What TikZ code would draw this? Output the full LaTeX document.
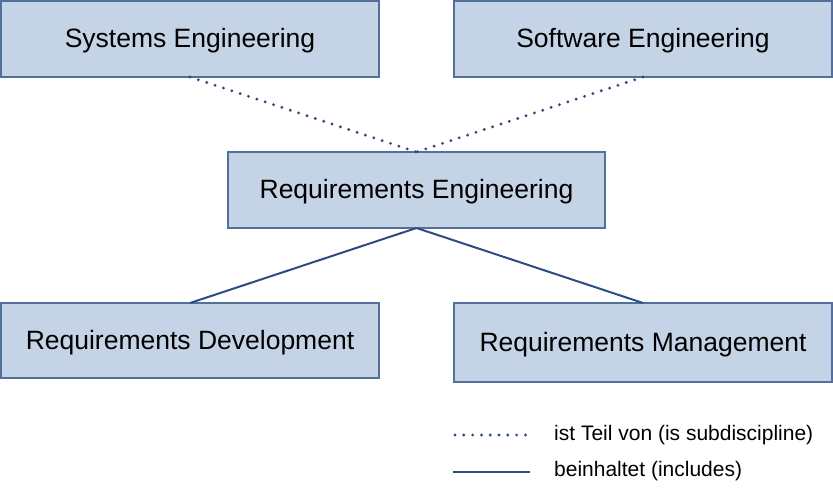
\documentclass[tikz,border=0pt]{standalone}
\usepackage{fontspec}
\setmainfont{Liberation Sans}
\definecolor{boxfill}{RGB}{196,211,229}
\definecolor{boxdraw}{RGB}{82,112,155}
\definecolor{linkcol}{RGB}{44,77,128}
\tikzset{
  discbox/.style={draw=boxdraw, fill=boxfill, line width=1.3pt, inner sep=0pt, outer sep=0pt,
    font=\fontsize{26.5}{30}\selectfont, text=black, text depth=0.17em},
  partof/.style={draw=linkcol, line width=3.2pt, line cap=round, dash pattern=on 0pt off 8.8pt},
  includes/.style={draw=linkcol, line width=2pt},
  legtext/.style={anchor=west, inner sep=0pt, font=\fontsize{21}{24}\selectfont, text=black}
}
\begin{document}
\begin{tikzpicture}[x=1pt,y=-1pt]
\useasboundingbox (0,0) rectangle (833,495);
\node[discbox, minimum width=378pt, minimum height=76pt] (se) at (190,39) {Systems Engineering};
\node[discbox, minimum width=378pt, minimum height=76pt] (sw) at (643,39) {Software Engineering};
\node[discbox, minimum width=377pt, minimum height=76pt] (re) at (416.5,190) {Requirements Engineering};
\node[discbox, minimum width=378pt, minimum height=75pt] (rd) at (190,340.5) {Requirements Development};
\node[discbox, minimum width=378pt, minimum height=79pt] (rm) at (643,342.5) {Requirements Management};
\draw[partof] (se.south) -- (re.north);
\draw[partof] (sw.south) -- (re.north);
\draw[includes] (re.south) -- (rd.north);
\draw[includes] (re.south) -- (rm.north);
\coordinate (d1) at (455,435);
\coordinate (d2) at (528,435);
\coordinate (s1) at (453,472);
\coordinate (s2) at (530,472);
\draw[partof] (d1) -- (d2);
\draw[includes] (s1) -- (s2);
\node[legtext] (l1) at (554,435) {ist Teil von (is subdiscipline)};
\node[legtext] (l2) at (554,471) {beinhaltet (includes)};
\end{tikzpicture}
\end{document}
